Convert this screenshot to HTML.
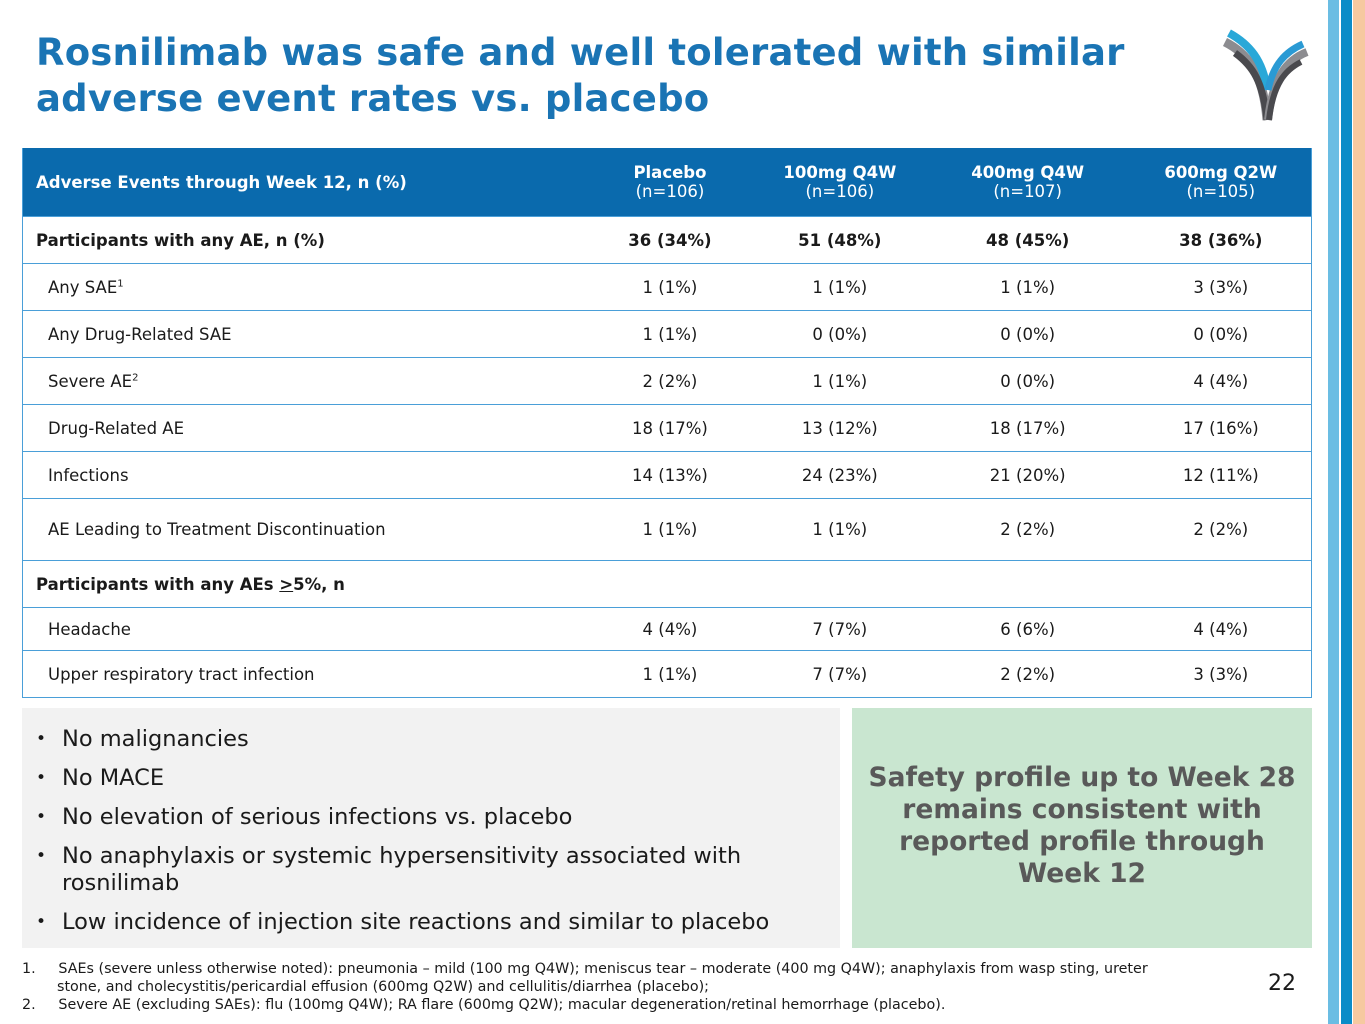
<!DOCTYPE html>
<html><head><meta charset="utf-8"><style>
body{margin:0;width:1365px;height:1024px;position:relative;background:#fff;font-family:"DejaVu Sans","Liberation Sans",sans-serif;overflow:hidden}
.abs{position:absolute}
h1{position:absolute;left:36px;top:30px;width:1150px;margin:0;font-size:37px;line-height:46px;color:#1a74b4;font-weight:bold;letter-spacing:0.2px}
table{position:absolute;left:22px;top:148px;width:1290px;border-collapse:collapse;font-size:16.5px;color:#1a1a1a}
td,th{border-bottom:1px solid #4a9fd8;padding:0}
tr td:first-child,tr th:first-child{text-align:left;padding-left:25px}
tr td:first-child.b{padding-left:13px}
td.c,th.c{text-align:center}
th{background:#0a6aad;color:#fff;font-weight:bold;font-size:16.5px;height:68px}
th span{font-weight:normal;display:block}
.tb{border-left:1px solid #4a9fd8;border-right:1px solid #4a9fd8}
.b{font-weight:bold}
ul{margin:0;padding:0;list-style:none}
li{position:relative;padding-left:40px;font-size:22.5px;color:#1a1a1a;line-height:27px;margin-bottom:12px}
li:before{content:"•";position:absolute;left:14px;font-size:17px}
.fn{font-size:14.3px;color:#1a1a1a;line-height:18px}
</style></head><body>
<h1>Rosnilimab was safe and well tolerated with similar adverse event rates vs. placebo</h1>
<svg class="abs" style="left:1215px;top:20px" width="100" height="105" viewBox="0 0 100 105" fill="none" stroke-linecap="butt">
<path d="M10 22 C30 32 48 50 52 100" stroke="#8c8c90" stroke-width="9"/>
<path d="M14 13 C34 24 48 40 52 70" stroke="#29a8d8" stroke-width="8"/>
<path d="M20 33 C38 46 48 62 52 100" stroke="#4a4a4e" stroke-width="7"/>
<path d="M92 32 C72 40 58 56 53 100" stroke="#8c8c90" stroke-width="8"/>
<path d="M88 24 C70 32 58 45 53 70" stroke="#2a9ad4" stroke-width="7"/>
<path d="M86 42 C70 50 58 64 54 100" stroke="#4a4a4e" stroke-width="6"/>
</svg>
<div class="abs" style="left:1328px;top:0;width:11px;height:1024px;background:#6bbde3"></div>
<div class="abs" style="left:1341px;top:0;width:11px;height:1024px;background:#0a8cc8"></div>
<div class="abs" style="left:1353px;top:0;width:12px;height:1024px;background:#f6c9a0"></div>
<table class="tb">
<colgroup><col style="width:563px"><col style="width:170px"><col style="width:170px"><col style="width:206px"><col style="width:181px"></colgroup>
<tr><th style="padding-left:13px">Adverse Events through Week 12, n (%)</th><th class="c">Placebo<span>(n=106)</span></th><th class="c">100mg Q4W<span>(n=106)</span></th><th class="c">400mg Q4W<span>(n=107)</span></th><th class="c">600mg Q2W<span>(n=105)</span></th></tr>
<tr style="height:47px"><td class="b">Participants with any AE, n (%)</td><td class="c b">36 (34%)</td><td class="c b">51 (48%)</td><td class="c b">48 (45%)</td><td class="c b">38 (36%)</td></tr>
<tr style="height:47px"><td>Any SAE<sup style="font-size:10px">1</sup></td><td class="c">1 (1%)</td><td class="c">1 (1%)</td><td class="c">1 (1%)</td><td class="c">3 (3%)</td></tr>
<tr style="height:47px"><td>Any Drug-Related SAE</td><td class="c">1 (1%)</td><td class="c">0 (0%)</td><td class="c">0 (0%)</td><td class="c">0 (0%)</td></tr>
<tr style="height:47px"><td>Severe AE<sup style="font-size:10px">2</sup></td><td class="c">2 (2%)</td><td class="c">1 (1%)</td><td class="c">0 (0%)</td><td class="c">4 (4%)</td></tr>
<tr style="height:47px"><td>Drug-Related AE</td><td class="c">18 (17%)</td><td class="c">13 (12%)</td><td class="c">18 (17%)</td><td class="c">17 (16%)</td></tr>
<tr style="height:47px"><td>Infections</td><td class="c">14 (13%)</td><td class="c">24 (23%)</td><td class="c">21 (20%)</td><td class="c">12 (11%)</td></tr>
<tr style="height:62px"><td>AE Leading to Treatment Discontinuation</td><td class="c">1 (1%)</td><td class="c">1 (1%)</td><td class="c">2 (2%)</td><td class="c">2 (2%)</td></tr>
<tr style="height:47px"><td class="b">Participants with any AEs <u>&gt;</u>5%, n</td><td></td><td></td><td></td><td></td></tr>
<tr style="height:43px"><td>Headache</td><td class="c">4 (4%)</td><td class="c">7 (7%)</td><td class="c">6 (6%)</td><td class="c">4 (4%)</td></tr>
<tr style="height:47px"><td>Upper respiratory tract infection</td><td class="c">1 (1%)</td><td class="c">7 (7%)</td><td class="c">2 (2%)</td><td class="c">3 (3%)</td></tr>
</table>
<div class="abs" style="left:22px;top:708px;width:818px;height:240px;background:#f2f2f2">
<ul style="position:absolute;left:0;top:18px;width:790px">
<li>No malignancies</li>
<li>No MACE</li>
<li>No elevation of serious infections vs. placebo</li>
<li>No anaphylaxis or systemic hypersensitivity associated with rosnilimab</li>
<li>Low incidence of injection site reactions and similar to placebo</li>
</ul></div>
<div class="abs" style="left:852px;top:708px;width:460px;height:240px;background:#c9e6d0;display:flex;align-items:center;justify-content:center;text-align:center;font-weight:bold;font-size:26.5px;line-height:32px;color:#595959"><div style="margin-top:-4px">Safety profile up to Week 28<br>remains consistent with<br>reported profile through<br>Week 12</div></div>
<div class="abs fn" style="left:22px;top:960px;width:1150px">
<div style="padding-left:35px;text-indent:-35px">1.&nbsp;&nbsp;&nbsp;&nbsp;&nbsp;SAEs (severe unless otherwise noted): pneumonia – mild (100 mg Q4W); meniscus tear – moderate (400 mg Q4W); anaphylaxis from wasp sting, ureter stone, and cholecystitis/pericardial effusion (600mg Q2W) and cellulitis/diarrhea (placebo);</div>
<div style="padding-left:35px;text-indent:-35px">2.&nbsp;&nbsp;&nbsp;&nbsp;&nbsp;Severe AE (excluding SAEs): flu (100mg Q4W); RA flare (600mg Q2W); macular degeneration/retinal hemorrhage (placebo).</div>
</div>
<div class="abs" style="left:1268px;top:971px;font-size:22px;color:#1a1a1a">22</div>
</body></html>
